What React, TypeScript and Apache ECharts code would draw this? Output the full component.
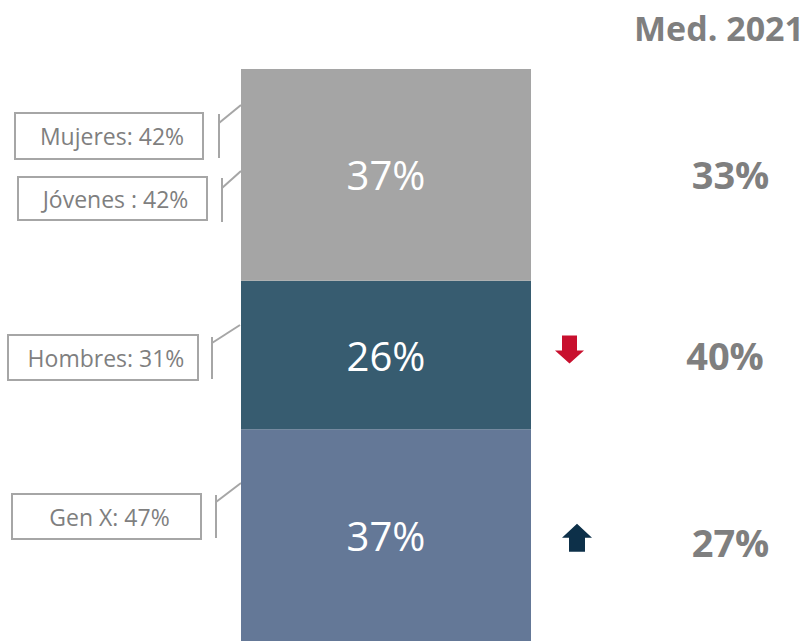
import { useEffect, useRef } from "react";
import * as echarts from "echarts";

// Data (bottom to top)
const segmentNames = ["Gen X", "Hombres", "Mujeres / Jóvenes"];
const currentValues = [37, 26, 37];
const med2021Values = [27, 40, 33];
const trendDirections = ["up", "down", null];
const segmentColors = ["#647897", "#375c70", "#a5a5a5"];
const headerLabel = "Med. 2021";
const calloutLabels = ["Mujeres: 42%", "Jóvenes : 42%", "Hombres: 31%", "Gen X: 47%"];

// Annotation layout (positions only)
const calloutLayout = [
  { x: 15, y: 113, w: 188, h: 46, bx: 219, by1: 114, by2: 158, dy: 123, ex: 241, ey: 105 },
  { x: 18, y: 177, w: 189, h: 43, bx: 222, by1: 178, by2: 222, dy: 188, ex: 241, ey: 171 },
  { x: 8, y: 335, w: 190, h: 45, bx: 212, by1: 337, by2: 379, dy: 343, ex: 240, ey: 325 },
  { x: 12, y: 494, w: 189, h: 45, bx: 216, by1: 495, by2: 538, dy: 502, ex: 241, ey: 483 },
];
const valueOffsetY = [7, 0, -1];
const valueOffsetX = [1.5, -4, 1.5];
const arrowOffsetY = [2.5, -5.5, 0];
const arrowX = { up: 577, down: 569.5 };
const arrowColors = { up: "#0d3049", down: "#c8102e" };
const valueX = 729;

const FONT = "'Open Sans', 'Noto Sans', sans-serif";

export default function App() {
  const ref = useRef<HTMLDivElement>(null);

  useEffect(() => {
    if (!ref.current) return;
    const chart = echarts.init(ref.current, null, { renderer: "svg" });

    const series = currentValues.map((v, i) => ({
      name: segmentNames[i],
      type: "bar",
      stack: "total",
      barWidth: "100%",
      data: [v],
      itemStyle: { color: segmentColors[i] },
      label: {
        show: true,
        position: "inside",
        formatter: "{c}%",
        color: "#ffffff",
        fontSize: 40,
        fontFamily: FONT,
        fontWeight: "normal",
      },
    }));

    chart.setOption({
      animation: false,
      grid: { left: 241, top: 69, width: 290, height: 572 },
      xAxis: { type: "category", data: ["Actual"], show: false },
      yAxis: { type: "value", min: 0, max: 100, show: false },
      series,
    });

    const graphics: any[] = [];
    graphics.push({
      type: "text",
      x: 719,
      y: 28,
      style: {
        text: headerLabel,
        fill: "#7f7f7f",
        font: `bold 34px ${FONT}`,
        textAlign: "center",
        textVerticalAlign: "middle",
      },
    });

    let cum = 0;
    currentValues.forEach((v, i) => {
      const center = cum + v / 2;
      cum += v;
      const cy = chart.convertToPixel({ yAxisIndex: 0 }, center) as number;
      graphics.push({
        type: "text",
        x: valueX + valueOffsetX[i],
        y: cy + valueOffsetY[i],
        style: {
          text: `${med2021Values[i]}%`,
          fill: "#7f7f7f",
          font: `bold 38px ${FONT}`,
          textAlign: "center",
          textVerticalAlign: "middle",
        },
      });
      const dir = trendDirections[i];
      if (dir) {
        const ax = (arrowX as any)[dir];
        const ay = cy + arrowOffsetY[i];
        const pts =
          dir === "down"
            ? [[-7.5, -14], [7.5, -14], [7.5, 1], [14.5, 1], [0, 14], [-14.5, 1], [-7.5, 1]]
            : [[0, -14], [15, 0], [8, 0], [8, 14], [-8, 14], [-8, 0], [-15, 0]];
        graphics.push({
          type: "polygon",
          shape: { points: pts.map(([px, py]) => [ax + px, ay + py]) },
          style: { fill: (arrowColors as any)[dir] },
        });
      }
    });

    calloutLabels.forEach((label, i) => {
      const c = calloutLayout[i];
      graphics.push({
        type: "rect",
        shape: { x: c.x, y: c.y, width: c.w, height: c.h },
        style: { fill: "#ffffff", stroke: "#a6a6a6", lineWidth: 2 },
      });
      graphics.push({
        type: "text",
        x: c.x + c.w / 2 + 3,
        y: c.y + c.h / 2,
        style: {
          text: label,
          fill: "#7f7f7f",
          font: `23px ${FONT}`,
          textAlign: "center",
          textVerticalAlign: "middle",
        },
      });
      graphics.push({
        type: "line",
        shape: { x1: c.bx, y1: c.by1, x2: c.bx, y2: c.by2 },
        style: { stroke: "#a6a6a6", lineWidth: 2 },
      });
      graphics.push({
        type: "line",
        shape: { x1: c.bx, y1: c.dy, x2: c.ex, y2: c.ey },
        style: { stroke: "#a6a6a6", lineWidth: 2 },
      });
    });

    chart.setOption({ graphic: graphics });

    return () => chart.dispose();
  }, []);

  return (
    <div
      ref={ref}
      style={{ position: "absolute", left: 0, top: 0, width: 808, height: 641, background: "#ffffff" }}
    />
  );
}
